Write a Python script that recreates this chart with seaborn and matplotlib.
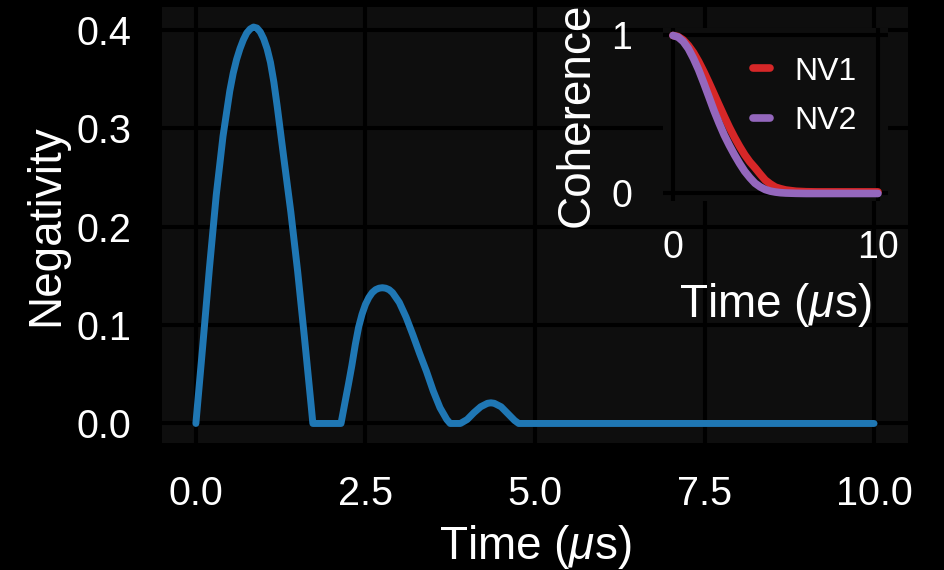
import matplotlib
matplotlib.use("Agg")
import seaborn as sns
from matplotlib import pyplot as plt


# negativity vs time (main panel)
neg_time = [0.0, 0.1, 0.2, 0.3, 0.4, 0.5, 0.55, 0.6, 0.65, 0.7, 0.75, 0.8, 0.85, 0.9, 0.95,
            1.0, 1.05, 1.1, 1.15, 1.2, 1.3, 1.4, 1.5, 1.6, 1.7, 1.725,
            2.14, 2.2, 2.25, 2.3, 2.35, 2.4, 2.45, 2.5, 2.55, 2.6, 2.65, 2.7, 2.75,
            2.8, 2.85, 2.9, 2.95, 3.0, 3.1, 3.2, 3.3, 3.4, 3.5, 3.6, 3.7, 3.75,
            3.9, 4.0, 4.1, 4.2, 4.3, 4.35, 4.4, 4.5, 4.6, 4.7, 4.76,
            5.0, 6.0, 7.0, 8.0, 9.0, 10.0]
neg_value = [0.0, 0.078, 0.158, 0.232, 0.292, 0.338, 0.356, 0.370, 0.381, 0.390, 0.397, 0.401, 0.403, 0.402, 0.398,
             0.391, 0.381, 0.367, 0.347, 0.322, 0.268, 0.215, 0.155, 0.088, 0.018, 0.0,
             0.0, 0.022, 0.040, 0.059, 0.080, 0.098, 0.111, 0.121, 0.128, 0.133, 0.136, 0.1375, 0.138,
             0.1375, 0.136, 0.133, 0.128, 0.123, 0.108, 0.090, 0.071, 0.053, 0.033, 0.016, 0.004, 0.0,
             0.0, 0.004, 0.011, 0.017, 0.0205, 0.021, 0.0205, 0.017, 0.010, 0.003, 0.0,
             0.0, 0.0, 0.0, 0.0, 0.0, 0.0]

# coherence of the two NV centres (inset)
coh_time = [0.0, 0.25, 0.5, 0.75, 1.0, 1.25, 1.5, 1.75, 2.0, 2.25, 2.5, 2.75, 3.0,
            3.25, 3.5, 3.75, 4.0, 4.25, 4.5, 4.75, 5.0, 5.25,
            5.5, 6.0, 6.5, 7.0, 8.0, 9.0, 10.0]
nv1_coherence = [1.0, 0.993, 0.972, 0.937, 0.892, 0.836, 0.772, 0.703, 0.631, 0.559, 0.488, 0.419, 0.356,
                 0.298, 0.245, 0.200, 0.163, 0.123, 0.085, 0.060, 0.04, 0.03,
                 0.022, 0.014, 0.011, 0.01, 0.01, 0.01, 0.01]
nv2_coherence = [1.0, 0.990, 0.962, 0.917, 0.855, 0.783, 0.70, 0.613, 0.525, 0.445, 0.37, 0.305, 0.245,
                 0.19, 0.14, 0.10, 0.065, 0.042, 0.025, 0.015, 0.009, 0.005,
                 0.003, 0.001, 0.0, 0.0, 0.0, 0.0, 0.0]

sns.set_theme(style="darkgrid", rc={
    "figure.facecolor": "black",
    "axes.facecolor": "#0e0e0e",
    "axes.edgecolor": "none",
    "grid.color": "black",
    "grid.linewidth": 2.9,
    "text.color": "white",
    "axes.labelcolor": "white",
    "xtick.color": "white",
    "ytick.color": "white",
    "xtick.major.size": 0,
    "ytick.major.size": 0,
    "xtick.major.pad": 23,
    "ytick.major.pad": 22,
    "mathtext.fontset": "custom",
    "mathtext.rm": "Liberation Sans",
    "mathtext.it": "Liberation Sans:italic",
})
plt.rcParams["font.family"] = ["Liberation Sans", "DejaVu Sans"]

fig = plt.figure(figsize=(9.45, 5.7), dpi=100)
ax = fig.add_axes([0.1714, 0.2223, 0.7894, 0.765])
sns.lineplot(x=neg_time, y=neg_value, ax=ax, color="#1f77b4", linewidth=5,
             solid_capstyle="round")
ax.set_xticks([0.0, 2.5, 5.0, 7.5, 10.0])
ax.set_yticks([0.0, 0.1, 0.2, 0.3, 0.4])
ax.tick_params(labelsize=28.5)
ax.set_xlabel(r"Time ($\mu$s)", fontsize=33, labelpad=7)
ax.set_ylabel("Negativity", fontsize=33, labelpad=6)

# inset
ax_in = fig.add_axes([0.7013, 0.6467, 0.2386, 0.3049])
sns.lineplot(x=coh_time, y=nv1_coherence, ax=ax_in, color="#d62728", linewidth=5.5,
             solid_capstyle="round", label="NV1")
sns.lineplot(x=coh_time, y=nv2_coherence, ax=ax_in, color="#9467bd", linewidth=5.5,
             solid_capstyle="round", label="NV2")
ax_in.set_xticks([0, 10])
ax_in.set_yticks([0, 1])
ax_in.tick_params(labelsize=27)
ax_in.tick_params(axis="x", pad=20.5)
ax_in.set_xlabel(r"Time ($\mu$s)", fontsize=33, labelpad=11)
ax_in.set_ylabel("Coherence", fontsize=33, labelpad=9)
ax_in.legend(loc="upper left", bbox_to_anchor=(0.40, 0.833), frameon=False,
             fontsize=23, handlelength=0.55, handletextpad=0.75,
             labelspacing=0.62, borderpad=0, borderaxespad=0)

fig.savefig("out.png", dpi=100, facecolor="black")
